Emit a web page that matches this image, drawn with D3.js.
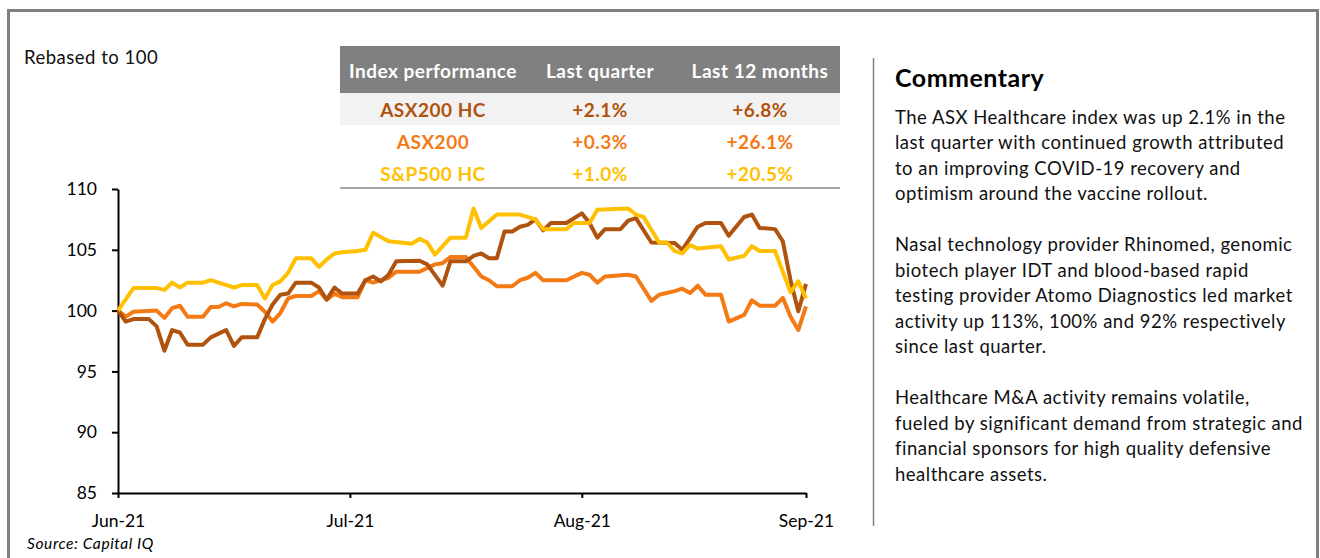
<!DOCTYPE html>
<html lang="en">
<head>
    <meta charset="utf-8">
    <title>Index performance</title>
    <script src="https://d3js.org/d3.v7.min.js"></script>
    <style>
        body{
            margin: 0;
            background: #fff;
        }
        svg text{
            font-family: Lato, "Open Sans", sans-serif;
        }
        .axis path, .axis line{
            stroke: #000;
            stroke-width: 2px;
        }
        .axis text{
            font-size: 17.5px;
            fill: #000;
        }
        .comment{
            font-size: 18.5px;
            letter-spacing: 0.5px;
            fill: #111;
        }
        .cell{
            font-size: 19px;
            font-weight: bold;
            letter-spacing: 0.5px;
        }
    </style>
</head>
<body>
    <div id="chart"></div>

    <script>

    // day index since start of June, index values rebased to 100
    var asx200hc = [[0,100.0],[1,99.1],[2,99.3],[4,99.3],[5,98.7],[6,96.7],[7,98.4],[8,98.2],[9,97.2],[11,97.2],[12,97.8],[14,98.4],[15,97.1],[16,97.8],[18,97.8],[19,99.3],[20,100.5],[21,101.3],[22,101.4],[23,102.3],[25,102.3],[26,101.9],[27,100.9],[28,101.9],[29,101.4],[31,101.4],[32,102.5],[33,102.8],[34,102.4],[35,102.95],[36,104.05],[39,104.1],[40,103.8],[42,102.05],[43,104.05],[45,104.05],[46,104.5],[47,104.7],[48,104.3],[49,104.3],[50,106.5],[51,106.5],[52,106.9],[53,107.05],[54,107.5],[55,106.6],[56,107.2],[58,107.2],[60,108.0],[61,107.2],[62,106.0],[63,106.7],[65,106.7],[66,107.4],[67,107.6],[69,105.6],[72,105.55],[73,105.0],[75,106.9],[76,107.2],[78,107.2],[79,106.15],[81,107.7],[82,107.9],[83,106.8],[85,106.7],[86,105.7],[87,102.5],[88,99.95],[89,102.2]]
    var asx200 = [[0,100.0],[1,99.5],[2,99.9],[5,100.0],[6,99.4],[7,100.2],[8,100.4],[9,99.5],[11,99.5],[12,100.3],[13,100.3],[14,100.6],[15,100.35],[16,100.55],[18,100.5],[19,99.9],[20,99.1],[21,99.8],[22,101.0],[23,101.2],[25,101.2],[26,101.6],[27,100.9],[28,101.4],[29,101.1],[31,101.1],[32,102.5],[33,102.3],[35,102.7],[36,103.2],[39,103.2],[41,103.8],[42,103.9],[43,104.4],[45,104.4],[46,103.6],[47,102.8],[48,102.5],[49,102.0],[51,102.0],[52,102.5],[53,102.7],[54,103.1],[55,102.5],[58,102.5],[60,103.1],[61,102.95],[62,102.3],[63,102.8],[66,102.95],[67,102.8],[69,100.8],[70,101.3],[72,101.6],[73,101.8],[74,101.45],[75,102.05],[76,101.3],[78,101.3],[79,99.1],[81,99.65],[82,100.85],[83,100.4],[85,100.4],[86,101.05],[87,99.5],[88,98.4],[89,100.35]]
    var sp500hc = [[0,100.0],[2,101.85],[5,101.85],[6,101.7],[7,102.3],[8,101.9],[9,102.3],[11,102.3],[12,102.5],[13,102.3],[15,101.9],[16,102.1],[18,102.1],[19,101.0],[20,102.1],[21,102.4],[22,103.1],[23,104.3],[25,104.3],[26,103.6],[27,104.2],[28,104.7],[29,104.8],[31,104.9],[32,105.0],[33,106.4],[35,105.7],[38,105.5],[39,105.9],[40,105.6],[41,104.6],[43,106.0],[45,106.0],[46,108.4],[47,106.8],[49,107.9],[52,107.9],[54,107.5],[55,106.7],[58,106.7],[59,107.2],[61,107.2],[62,108.3],[66,108.4],[67,107.9],[68,107.7],[70,105.6],[71,105.6],[72,104.9],[73,104.7],[74,105.4],[75,105.1],[78,105.3],[79,104.2],[81,104.5],[82,105.3],[83,104.9],[85,104.9],[87,101.5],[88,102.4],[89,101.0]]

    var tickDays = [0, 30, 60, 89]
    var tickLabels = ["Jun-21", "Jul-21", "Aug-21", "Sep-21"]
    var yTicks = [85, 90, 95, 100, 105, 110]

    var indexNames = ["ASX200 HC", "ASX200", "S&P500 HC"]
    var lastQuarter = ["+2.1%", "+0.3%", "+1.0%"]
    var last12Months = ["+6.8%", "+26.1%", "+20.5%"]
    var indexColors = ["#B0530E", "#F47A16", "#FFC000"]

    var commentary = [
        "The ASX Healthcare index was up 2.1% in the",
        "last quarter with continued growth attributed",
        "to an improving COVID-19 recovery and",
        "optimism around the vaccine rollout.",
        "",
        "Nasal technology provider Rhinomed, genomic",
        "biotech player IDT and blood-based rapid",
        "testing provider Atomo Diagnostics led market",
        "activity up 113%, 100% and 92% respectively",
        "since last quarter.",
        "",
        "Healthcare M&A activity remains volatile,",
        "fueled by significant demand from strategic and",
        "financial sponsors for high quality defensive",
        "healthcare assets."
    ]

    var width = 1320
    var height = 558

    var svg = d3.select("#chart")
      .append("svg")
        .attr("width", width)
        .attr("height", height)

    // grey frame round the slide
    svg.append("rect")
        .attr("x", 8.5)
        .attr("y", 10.5)
        .attr("width", 1309)
        .attr("height", 570)
        .attr("fill", "none")
        .attr("stroke", "#7f7f7f")
        .attr("stroke-width", 3)

    svg.append("text")
        .attr("class", "comment")
        .attr("x", 24)
        .attr("y", 64)
        .attr("fill", "#000")
        .text("Rebased to 100")

    var x = d3.scaleLinear().domain([0, 89]).range([118, 806])
    var y = d3.scaleLinear().domain([85, 110]).range([493, 189])

    svg.append("g")
        .attr("class", "axis")
        .attr("transform", "translate(118,0)")
        .call(d3.axisLeft(y).tickValues(yTicks).tickSize(6).tickSizeOuter(0).tickPadding(15))

    svg.append("g")
        .attr("class", "axis")
        .attr("transform", "translate(0,493)")
        .call(d3.axisBottom(x).tickValues(tickDays).tickFormat((d, i) => tickLabels[i])
            .tickSize(5).tickSizeOuter(0).tickPadding(17))

    var line = d3.line()
        .x(d => x(d[0]))
        .y(d => y(d[1]))

    // draw order: ASX200, ASX200 HC, then S&P500 HC on top
    var series = [
        {data: asx200, color: indexColors[1]},
        {data: asx200hc, color: indexColors[0]},
        {data: sp500hc, color: indexColors[2]}
    ]

    svg.append("g")
      .selectAll("path")
      .data(series)
      .enter()
      .append("path")
        .attr("d", d => line(d.data))
        .attr("fill", "none")
        .attr("stroke", d => d.color)
        .attr("stroke-width", 4)
        .attr("stroke-linejoin", "round")

    // performance table
    var table = svg.append("g")
    var colX = [433, 600, 760]

    table.append("rect")
        .attr("x", 340).attr("y", 46)
        .attr("width", 500).attr("height", 47)
        .attr("fill", "#808080")
    table.append("rect")
        .attr("x", 340).attr("y", 93)
        .attr("width", 500).attr("height", 32)
        .attr("fill", "#f2f2f2")
    table.append("line")
        .attr("x1", 340).attr("x2", 840)
        .attr("y1", 188).attr("y2", 188)
        .attr("stroke", "#a6a6a6")
        .attr("stroke-width", 2)

    table.selectAll("text.head")
      .data(["Index performance", "Last quarter", "Last 12 months"])
      .enter()
      .append("text")
        .attr("class", "cell")
        .attr("x", (d, i) => colX[i])
        .attr("y", 78)
        .attr("text-anchor", "middle")
        .attr("fill", "#fff")
        .text(d => d)

    var rows = table.selectAll("g.row")
      .data(indexNames)
      .enter()
      .append("g")
        .attr("class", "row")
        .attr("transform", (d, i) => "translate(0," + (117 + i * 32) + ")")

    rows.each(function(name, i){
        var cells = [name, lastQuarter[i], last12Months[i]]
        d3.select(this).selectAll("text")
          .data(cells)
          .enter()
          .append("text")
            .attr("class", "cell")
            .attr("x", (d, j) => colX[j])
            .attr("text-anchor", "middle")
            .attr("fill", indexColors[i])
            .text(d => d)
    })

    // commentary panel
    svg.append("line")
        .attr("x1", 873.5).attr("x2", 873.5)
        .attr("y1", 58).attr("y2", 526)
        .attr("stroke", "#808080")
        .attr("stroke-width", 1.5)

    svg.append("text")
        .attr("x", 895)
        .attr("y", 87)
        .style("font-size", "25px")
        .style("font-weight", "bold")
        .style("letter-spacing", "0.5px")
        .text("Commentary")

    svg.append("g")
      .selectAll("text")
      .data(commentary)
      .enter()
      .append("text")
        .attr("class", "comment")
        .attr("x", 895)
        .attr("y", (d, i) => 123.5 + i * 25.5)
        .text(d => d)

    svg.append("text")
        .attr("x", 27)
        .attr("y", 549)
        .style("font-size", "15.5px")
        .style("font-style", "italic")
        .style("letter-spacing", "0.6px")
        .text("Source: Capital IQ")

    </script>
</body>
</html>
